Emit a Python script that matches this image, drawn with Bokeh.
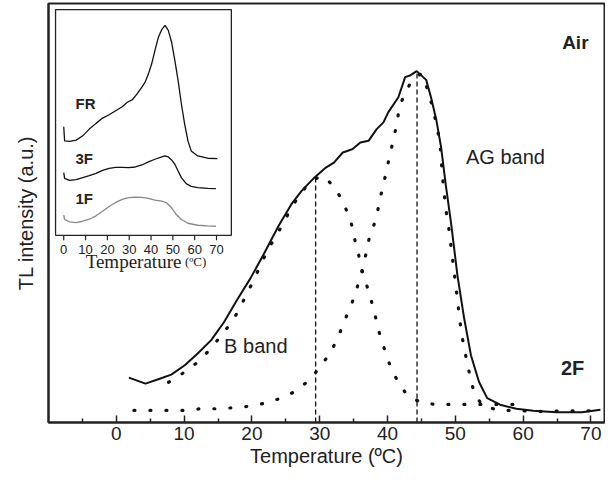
from bokeh.plotting import figure
from bokeh.models import Range1d, FixedTicker
from bokeh.core.properties import value
from bokeh.embed import file_html
from bokeh.resources import INLINE

# ---------------- main chart data ----------------
main_ticks = [0, 10, 20, 30, 40, 50, 60, 70]
main_minor = [-5, 5, 15, 25, 35, 45, 55, 65]

tl_T = [1.85, 4.3, 6.2, 8.1, 10.1, 12.0, 14.0, 15.9, 17.8, 19.8, 21.7, 23.9, 25.8, 27.3,
        29.2, 30.9, 32.1, 33.4, 34.8, 36.0, 37.2, 38.4, 39.4, 40.1, 41.6, 42.6, 43.3, 44.3,
        45.7, 46.4, 47.2, 47.9, 48.6, 49.4, 50.3, 51.3, 52.3, 53.5, 54.7, 56.6, 59.0, 61.5,
        64.9, 68.7, 71.4]
tl_I = [44.7, 38.7, 43, 47.7, 57, 68.7, 82, 100, 122, 143.7, 167, 195.3, 217, 230.3,
        243.7, 253.7, 258.7, 268.7, 272, 278.7, 280.3, 292, 298.7, 308.7, 323.7, 343.7, 345.3, 349.7,
        341, 324, 301, 274, 236, 197, 147, 103.7, 67, 40.3, 24.3, 17.7, 13.7, 11.7,
        10.3, 10.3, 12.7]

b_T = [7.7, 9.8, 11.8, 13.6, 15.3, 16.9, 18.1, 19.3, 20.3, 21.5, 22.6, 23.7, 26.1, 28.0,
       29.5, 30.7, 32.4, 33.6, 34.6, 35.1, 35.7, 36.3, 37.0, 37.7, 38.3, 38.9, 39.7, 40.5,
       41.6, 42.9, 45.2, 47.6, 50.1, 52.6, 55.2, 57.6, 60.0]
b_I = [40, 49, 59, 71, 85, 99, 112, 129, 142, 160, 175, 187, 217, 235,
       243, 245, 232, 217, 200, 184, 168, 150, 135, 119, 103, 86, 70, 54,
       40, 27, 19, 18, 18, 18, 18, 18, 18]

ag_T = [2.6, 5.0, 7.4, 10.0, 12.5, 14.9, 17.4, 19.8, 22.1, 24.5, 26.7, 28.5, 30.2, 31.7,
        32.8, 33.7, 34.7, 35.5, 36.2, 36.8, 37.3, 38.1, 38.7, 39.2, 39.8, 40.3, 40.9, 41.4,
        41.8, 42.6, 43.7, 45.0, 46.0, 46.7, 47.2, 47.7, 48.1, 48.6, 49.0, 49.3, 49.6, 49.9,
        50.2, 50.5, 50.8, 51.2, 51.7, 52.2, 52.8, 54.0, 56.4, 58.8, 61.5, 63.9, 66.3, 68.7, 71.2]
ag_I = [12, 12, 12, 12, 13.7, 13.7, 14.7, 16.3, 19.5, 24.7, 32, 42.7, 56.3, 71,
        86.3, 102, 117.7, 133.7, 150.3, 167, 183.5, 198.7, 215.3, 232, 248.7, 265.3, 282, 298.7,
        315.3, 327.7, 342, 347, 330, 312, 297, 280.3, 245.3, 212, 195.3, 178.7, 162, 145.3,
        128.7, 111, 94.3, 77.7, 61, 45.3, 28.7, 17, 12, 12, 11, 11, 11.7, 11.7, 11.7]

peak_T = [29.4, 44.35]
peak_I = [244, 348]

# ---------------- inset data ----------------
inset_ticks = [0, 10, 20, 30, 40, 50, 60, 70]

fr_T = [0, 0.4, 2.7, 5.7, 8.7, 11.7, 14.8, 17.8, 20.8, 23.8, 26.8, 29.1, 31.3, 33.6, 35.8,
        37.3, 38.8, 40.3, 41.8, 43.4, 44.9, 46.4, 47.9, 49.4, 50.9, 52.4, 53.9, 55.4, 56.9,
        58.4, 61.4, 65.9, 70.4]
fr_I = [108, 94, 93.4, 94.7, 99, 105.7, 111.4, 116.7, 120, 124, 128, 132.4, 134.7, 140.7, 147.4,
        152.4, 160.7, 170.7, 184, 197.4, 204.7, 209, 204, 192.4, 174, 154, 130.7, 110.7, 94,
        84, 79, 76.7, 76.4]

f3_T = [0, 0.4, 2.7, 5.7, 8.7, 11.7, 14.8, 17.8, 20.8, 23.8, 26.8, 29.8, 32.8, 35.8, 38.8,
        41.8, 44.9, 46.4, 47.9, 49.4, 50.9, 52.4, 53.9, 56.1, 58.4, 61.4, 65.9, 69.7]
f3_I = [62.4, 56.7, 54.7, 55.4, 57.4, 59.4, 61.7, 64.7, 66.7, 67.7, 67.7, 67.4, 68, 70, 73,
        75.7, 78, 79, 78, 75, 70.7, 64, 57.4, 51.4, 48.7, 47.4, 46.7, 46.4]

f1_T = [0, 0.4, 2.7, 5.7, 8.7, 11.7, 14.8, 17.8, 20.8, 23.8, 26.8, 29.8, 32.8, 35.8, 38.8,
        41.8, 44.9, 47.1, 49.4, 51.6, 53.9, 56.9, 61.4, 65.9, 69.7]
f1_I = [20, 15.7, 13.4, 12.7, 14, 16, 19.4, 24, 28.7, 32.7, 35.7, 37.4, 38, 37.7, 36.7,
        35, 34, 32.4, 27.4, 20.7, 15.7, 12, 10, 9.4, 9]

# ---------------- figure ----------------
MX0, MX1 = -10, 72
MY0, MY1 = 0, 417
p = figure(width=605, height=482, x_range=Range1d(MX0, MX1), y_range=Range1d(MY0, MY1),
           output_backend="svg", toolbar_location=None,
           min_border_left=48, min_border_right=1, min_border_top=3, min_border_bottom=60)
p.background_fill_color = "white"
p.border_fill_color = "white"
p.outline_line_color = "#222222"
p.outline_line_width = 2
p.outline_line_alpha = 1
p.xgrid.visible = False
p.ygrid.visible = False

FONT = "Liberation Sans"
ax = p.xaxis[0]
ax.ticker = FixedTicker(ticks=main_ticks, minor_ticks=main_minor)
ax.axis_line_color = "#222222"
ax.axis_line_width = 2
ax.major_tick_in = 7
ax.major_tick_out = 0
ax.minor_tick_in = 4
ax.minor_tick_out = 0
ax.major_tick_line_width = 1.5
ax.minor_tick_line_width = 1.5
ax.major_tick_line_color = "#222222"
ax.minor_tick_line_color = "#222222"
ax.major_label_text_font = FONT
ax.major_label_text_font_size = "19px"
ax.major_label_text_color = "#222222"
ax.major_label_standoff = 4
ax.axis_label = "Temperature (ºC)"
ax.axis_label_text_font = FONT
ax.axis_label_text_font_size = "20px"
ax.axis_label_text_font_style = "normal"
ax.axis_label_text_color = "#222222"
ax.axis_label_standoff = 2

ay = p.yaxis[0]
ay.ticker = FixedTicker(ticks=[])
ay.axis_line_color = "#222222"
ay.axis_line_width = 2
ay.major_tick_line_color = None
ay.minor_tick_line_color = None
ay.axis_label = "TL intensity (a.u.)"
ay.axis_label_text_font = FONT
ay.axis_label_text_font_size = "20px"
ay.axis_label_text_font_style = "normal"
ay.axis_label_text_color = "#222222"
ay.axis_label_standoff = 12

DOT = dict(line_color="#111111", line_width=3.2, line_dash="1 15", line_cap="round")

# main curves
p.line(tl_T, tl_I, line_color="#111111", line_width=2)
p.line(b_T, b_I, **DOT)
p.line(ag_T, ag_I, **DOT)
p.segment(x0=peak_T, y0=[0] * len(peak_T), x1=peak_T, y1=peak_I,
          line_color="#111111", line_width=1.3, line_dash="5 3")

p.text(x=[67.7], y=[378], text=["Air"], text_font=value(FONT), text_font_style="bold",
       text_font_size="19px", text_align="center", text_baseline="middle", text_color="#222222")
p.text(x=[67.3], y=[54], text=["2F"], text_font=value(FONT), text_font_style="bold",
       text_font_size="20px", text_align="center", text_baseline="middle", text_color="#222222")
p.text(x=[57.4], y=[264], text=["AG band"], text_font=value(FONT),
       text_font_size="20px", text_align="center", text_baseline="middle", text_color="#222222")
p.text(x=[15.9], y=[76], text=["B band"], text_font=value(FONT),
       text_font_size="20px", text_align="left", text_baseline="middle", text_color="#222222")

# ---------------- inset via extra ranges ----------------
IX0, IX1 = -8.96, 16.97      # inset box in main x units
IY0, IY1 = 186.3, 411.0      # inset box in main y units
ix0, ix1 = -3.75, 76.8       # inset x data range
iy0, iy1 = 0.0, 224.7        # inset y data range
bx = (IX1 - IX0) / (ix1 - ix0)
by = (IY1 - IY0) / (iy1 - iy0)
p.extra_x_ranges = {"ix": Range1d(ix0 + (MX0 - IX0) / bx, ix0 + (MX1 - IX0) / bx)}
p.extra_y_ranges = {"iy": Range1d(iy0 + (MY0 - IY0) / by, iy0 + (MY1 - IY0) / by)}
kw = dict(x_range_name="ix", y_range_name="iy")

p.quad(left=[ix0], right=[ix1], bottom=[iy0], top=[iy1], fill_color="white",
       line_color="#222222", line_width=1.3, **kw)
p.segment(x0=inset_ticks, y0=[iy0] * len(inset_ticks), x1=inset_ticks, y1=[iy0 - 5] * len(inset_ticks),
          line_color="#222222", line_width=1.2, **kw)
p.text(x=inset_ticks, y=[iy0 - 14.5] * len(inset_ticks), text=[str(t) for t in inset_ticks],
       text_font=value(FONT), text_font_size="13px", text_align="center", text_baseline="middle",
       text_color="#222222", **kw)
p.text(x=[53.9], y=[iy0 - 26], text=["Temperature"], text_font=value("Liberation Serif"),
       text_font_size="19px", text_align="right", text_baseline="middle", text_color="#222222", **kw)
p.text(x=[55.5], y=[iy0 - 26], text=["(ºC)"], text_font=value("Liberation Serif"),
       text_font_size="13px", text_align="left", text_baseline="middle", text_color="#222222", **kw)

p.line(fr_T, fr_I, line_color="#111111", line_width=1.3, **kw)
p.line(f3_T, f3_I, line_color="#111111", line_width=1.3, **kw)
p.line(f1_T, f1_I, line_color="#888888", line_width=1.3, **kw)

p.text(x=[5.4, 5.4, 5.4], y=[130.7, 76.7, 36.7], text=["FR", "3F", "1F"],
       text_font=value(FONT), text_font_style="bold", text_font_size="15px",
       text_align="left", text_baseline="middle", text_color="#222222", **kw)

open("out.html", "w").write(file_html(p, INLINE))
